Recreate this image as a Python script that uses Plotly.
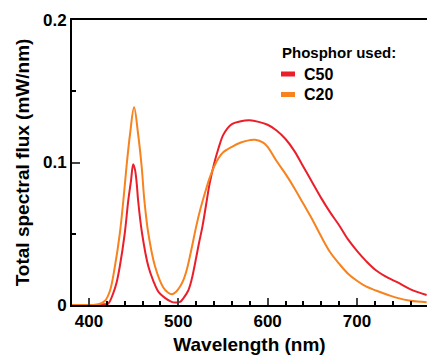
import plotly.graph_objects as go

# ---- data ----
wl_c50 = [381, 400, 410, 416, 421.5, 427, 431, 434.5, 440, 444, 447, 449.5, 451.5, 453.5,
          455, 459.5, 466.5, 472, 478, 485, 492.5, 497, 502, 506, 511, 515, 519, 523, 527,
          531, 535, 540, 545, 550, 555, 560, 570, 580, 590, 600, 610, 620, 630, 640, 650,
          660, 670, 680, 690, 700, 710, 722, 735, 745, 760, 778]
flux_c50 = [0.0, 0.0, 0.0002, 0.0005, 0.001, 0.008, 0.016, 0.027, 0.050, 0.0735, 0.087,
            0.0988, 0.095, 0.085, 0.0735, 0.050, 0.027, 0.017, 0.009, 0.005, 0.0022, 0.0018,
            0.0022, 0.005, 0.010, 0.018, 0.030, 0.043, 0.055, 0.070, 0.085, 0.099, 0.110,
            0.119, 0.124, 0.127, 0.129, 0.1296, 0.1285, 0.1265, 0.1225, 0.1165, 0.108, 0.097,
            0.086, 0.075, 0.065, 0.056, 0.046, 0.038, 0.031, 0.024, 0.019, 0.016, 0.011, 0.007]

wl_c20 = [381, 400, 410, 418, 423.5, 429, 434.5, 438.5, 442, 446, 450.5, 455, 459, 462,
          466.5, 474, 483, 488, 493, 497, 502, 506, 510, 515, 520, 525, 530, 535, 540, 545,
          550, 560, 570, 580, 586, 595, 600, 610, 620, 630, 640, 650, 660, 670, 680, 690,
          700, 710, 722, 735, 745, 760, 778]
flux_c20 = [0.0, 0.0, 0.0003, 0.003, 0.010, 0.027, 0.050, 0.0735, 0.097, 0.120, 0.1387,
            0.120, 0.097, 0.0735, 0.050, 0.027, 0.0125, 0.009, 0.0075, 0.009, 0.013, 0.018,
            0.026, 0.040, 0.055, 0.068, 0.079, 0.089, 0.097, 0.103, 0.107, 0.111, 0.114,
            0.1157, 0.116, 0.114, 0.111, 0.101, 0.092, 0.082, 0.071, 0.060, 0.048, 0.037,
            0.029, 0.022, 0.017, 0.013, 0.010, 0.007, 0.005, 0.003, 0.002]

series_names = ["C50", "C20"]
series_colors = ["#ea1f2a", "#f7821e"]
legend_title = "Phosphor used:"

x_tickvals = [400, 500, 600, 700]
y_tickvals = [0, 0.1, 0.2]
y_ticktext = ["0", "0.1", "0.2"]

FONT = "Liberation Sans, Arial, sans-serif"

fig = go.Figure()
for wl, fl, name, col in zip([wl_c50, wl_c20], [flux_c50, flux_c20], series_names, series_colors):
    fig.add_trace(go.Scatter(x=wl, y=fl, mode="lines", name=name,
                             line=dict(color=col, width=2, shape="spline", smoothing=1.0),
                             showlegend=False))

W, H = 427, 357
L, T, B = 72, 20, 52
fig.update_layout(
    width=W, height=H,
    margin=dict(l=L, r=0, t=T, b=B),
    paper_bgcolor="white", plot_bgcolor="white",
    font=dict(family=FONT, color="black", size=17, weight="bold"),
    xaxis=dict(range=[381, 778.4], tickvals=x_tickvals, ticks="inside", ticklen=7, tickwidth=2,
               showline=True, linewidth=2, linecolor="black", mirror=True, showgrid=False,
               zeroline=False, tickfont=dict(size=17, family=FONT, weight="bold"),
               minor=dict(dtick=20, ticks="inside", ticklen=4, tickwidth=1.5, tickcolor="black"),
               title=dict(text="Wavelength (nm)", font=dict(size=19, family=FONT, weight="bold"),
                          standoff=7)),
    yaxis=dict(range=[0, 0.2], tickvals=y_tickvals, ticktext=y_ticktext, ticks="inside",
               ticklen=8, tickwidth=2, showline=True, linewidth=2, linecolor="black",
               showgrid=False, zeroline=False,
               tickfont=dict(size=17, family=FONT, weight="bold"),
               minor=dict(dtick=0.05, ticks="inside", ticklen=4, tickwidth=1.5, tickcolor="black"),
               title=dict(text="Total spectral flux (mW/nm)",
                          font=dict(size=19, family=FONT, weight="bold"), standoff=8)),
)

# legend drawn as text + swatches (paper coordinates)
pw, ph = W - L, H - T - B
def px_x(x):
    return (x - L) / pw
def px_y(y):
    return (H - B - y) / ph

fig.add_annotation(x=px_x(280), y=px_y(52), xref="paper", yref="paper", text=legend_title,
                   showarrow=False, xanchor="left", yanchor="middle",
                   font=dict(size=15, family=FONT, weight="bold"))
for i, (name, col) in enumerate(zip(series_names, series_colors)):
    yc = 74 + 20.5 * i
    fig.add_shape(type="rect", xref="paper", yref="paper",
                  x0=px_x(281), x1=px_x(295), y0=px_y(yc + 2.5), y1=px_y(yc - 2.5),
                  fillcolor=col, line=dict(width=0))
    fig.add_annotation(x=px_x(302), y=px_y(yc), xref="paper", yref="paper", text=name,
                       showarrow=False, xanchor="left", yanchor="middle",
                       font=dict(size=16, family=FONT, weight="bold"))

fig.write_html("out.html")
